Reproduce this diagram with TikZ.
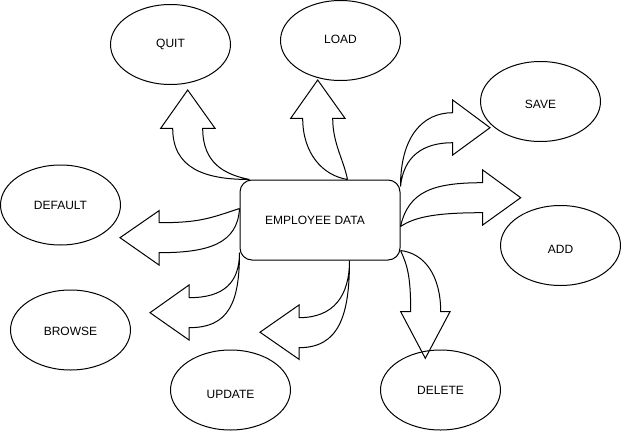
\documentclass[tikz,border=0pt]{standalone}
\usepackage{fontspec}
\setmainfont{Liberation Sans}
\usetikzlibrary{shapes.geometric,calc}
\tikzset{
  oval/.style={ellipse, draw=black, line width=1pt, minimum width=120pt, minimum height=80pt, inner sep=0pt, font=\fontsize{12pt}{14pt}\selectfont},
  databox/.style={rectangle, rounded corners=12pt, draw=black, line width=1pt, minimum width=160pt, minimum height=80pt, inner sep=0pt},
  lbl/.style={font=\fontsize{12pt}{14pt}\selectfont, inner sep=0pt},
  blockarrow/.style={draw=black, line width=1pt, line join=miter}
}
\begin{document}
\begin{tikzpicture}[x=1pt, y=-1pt]
\useasboundingbox (0,0) rectangle (621,431);

% central box
\node[databox] (emp) at (320,220) {};
\node[lbl] (emptext) at (315,220) {EMPLOYEE DATA};

% ellipses
\node[oval] (quit) at (170.5,44.5) {};
\node[lbl] at (170.5,44) {QUIT};
\node[oval] (load) at (340.5,40.5) {};
\node[lbl] at (340.5,39.5) {LOAD};
\node[oval] (save) at (540.5,101.5) {};
\node[lbl] at (540.5,104) {SAVE};
\node[oval] (add) at (560.5,245.5) {};
\node[lbl] at (560.5,249) {ADD};
\node[oval] (default) at (60.5,205) {};
\node[lbl] at (60.5,205) {DEFAULT};
\node[oval] (browse) at (70.5,330) {};
\node[lbl] at (70.5,331) {BROWSE};
\node[oval] (update) at (230.5,390) {};
\node[lbl] at (230.5,394) {UPDATE};
\node[oval] (delete) at (440.5,390) {};
\node[lbl] at (440.5,390) {DELETE};

% arrow sources on the box
\coordinate (sQuit) at ($(emp.north west)+(10,0)$);
\coordinate (sLoad) at ($(emp.north west)+(108,0)$);
\coordinate (sSave) at ($(emp.north east)+(0,7)$);
\coordinate (sAdd) at ($(emp.north east)+(0,47)$);
\coordinate (sDefault) at ($(emp.north west)+(0,29)$);
\coordinate (sBrowse) at ($(emp.south west)+(0,-8)$);
\coordinate (sUpdate) at ($(emp.south west)+(110,0)$);
\coordinate (sDelete) at ($(emp.south east)+(0,-10)$);

% arrow tips
\coordinate (tQuit) at (187.7,90);
\coordinate (tLoad) at (317.7,80);
\coordinate (tSave) at (490,127.7);
\coordinate (tAdd) at (520.7,197.7);
\coordinate (tDefault) at (120,237.7);
\coordinate (tBrowse) at (150,312.7);
\coordinate (tUpdate) at (260,332.2);
\coordinate (tDelete) at (425.3,358.3);

% QUIT
\draw[blockarrow] (sQuit) .. controls +(-45,0) and +(0,40) .. (172.7,128.3)
  -- (160.7,128.3) -- (tQuit) -- (215,128.3) -- (202.7,128.3)
  .. controls +(0,35) and +(-25,-5) .. (sQuit);
% LOAD
\draw[blockarrow] (sLoad) .. controls +(-25,-4) and +(0,35) .. (302.7,118.3)
  -- (290.7,118.3) -- (tLoad) -- (345,118.3) -- (332.7,118.3)
  .. controls +(0,25) and +(-4,-20) .. (sLoad);
% SAVE
\draw[blockarrow] (sSave) .. controls +(0,-50) and +(-30,0) .. (452.7,112.7)
  -- (452.7,100) -- (tSave) -- (452.7,155) -- (452.7,142.7)
  .. controls +(-30,0) and +(3,-30) .. (sSave);
% ADD
\draw[blockarrow] (sAdd) .. controls +(8,-35) and +(-50,0) .. (482.7,182.7)
  -- (482.7,170) -- (tAdd) -- (482.7,225) -- (482.7,212.7)
  .. controls +(-45,0) and +(15,-10) .. (sAdd);
% DEFAULT
\draw[blockarrow] (sDefault) .. controls +(-30,10) and +(40,0) .. (159,222.7)
  -- (159,210.7) -- (tDefault) -- (159,265) -- (159,252.7)
  .. controls +(50,0) and +(-2,35) .. (sDefault);
% BROWSE
\draw[blockarrow] (sBrowse) .. controls +(0,30) and +(35,0) .. (189,297.7)
  -- (189,285) -- (tBrowse) -- (189,340) -- (189,327.7)
  .. controls +(40,0) and +(0,50) .. (sBrowse);
% UPDATE
\draw[blockarrow] (sUpdate) .. controls +(0,35) and +(35,0) .. (299,317.7)
  -- (299,305) -- (tUpdate) -- (299,359.3) -- (299,347.7)
  .. controls +(40,0) and +(0,55) .. (sUpdate);
% DELETE
\draw[blockarrow] (sDelete) .. controls +(7,15) and +(0,-35) .. (410.7,311.7)
  -- (400.7,311.7) -- (tDelete) -- (450,311.7) -- (440.7,311.7)
  .. controls +(0,-35) and +(25,3) .. (sDelete);
\end{tikzpicture}
\end{document}
